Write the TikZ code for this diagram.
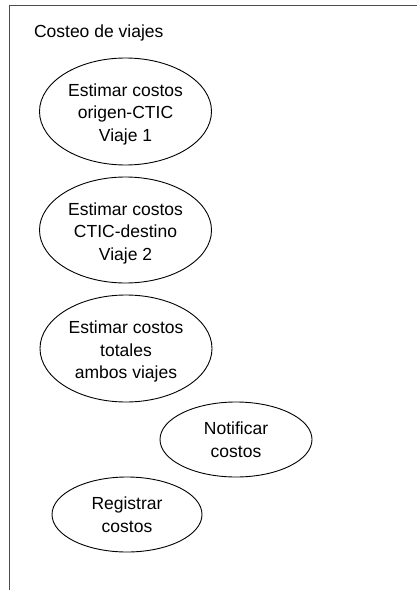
\documentclass[tikz,border=0pt]{standalone}
\usepackage{fontspec}
\setmainfont{Liberation Sans}
\usetikzlibrary{shapes.geometric}
% text block set a little lower than the geometric centre of its node
\newcommand{\lowtext}[1]{\raisebox{-3pt}[\height][\depth]{\begin{tabular}{@{}c@{}}#1\end{tabular}}}
\begin{document}
\begin{tikzpicture}[x=1pt,y=-1pt,
  usecase/.style={draw=black, line width=0.9pt, ellipse, inner sep=0pt,
    align=center, font=\fontsize{17.5}{22.5}\selectfont},
  frameline/.style={draw=black!70, line width=1.1pt}]
  \useasboundingbox (0,0) rectangle (418,591);
  % boundary of the subsystem
  \coordinate (topright) at (417,5.5);
  \coordinate (corner) at (9.5,5.5);
  \coordinate (bottomleft) at (9.5,590);
  \draw[frameline] (topright) -- (corner) -- (bottomleft);
  \node[anchor=base west, font=\fontsize{17.5}{22.5}\selectfont] (title) at (30.5,38) {Costeo de viajes};
  % use cases
  \node[usecase, minimum width=172pt, minimum height=107pt] (uc1) at (125.5,111.5)
    {\lowtext{Estimar costos\\origen-CTIC\\Viaje 1}};
  \node[usecase, minimum width=172pt, minimum height=106pt] (uc2) at (125.5,230)
    {\lowtext{Estimar costos\\CTIC-destino\\Viaje 2}};
  \node[usecase, minimum width=172pt, minimum height=107pt] (uc3) at (126,348.5)
    {\lowtext{Estimar costos\\totales\\ambos viajes}};
  \node[usecase, minimum width=152pt, minimum height=75pt] (uc4) at (236,439.5)
    {Notificar\\costos};
  \node[usecase, minimum width=150pt, minimum height=75pt] (uc5) at (127,514.5)
    {Registrar\\costos};
\end{tikzpicture}
\end{document}
